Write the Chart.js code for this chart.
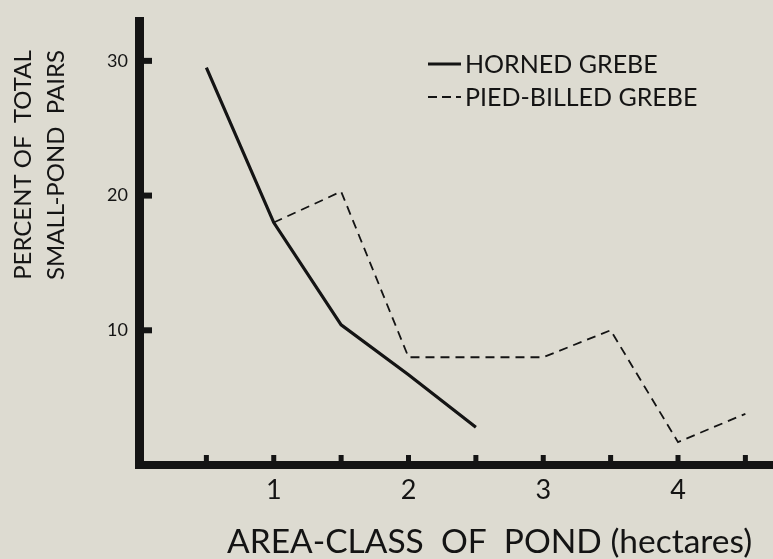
<!DOCTYPE html>
<html>
<head>
<meta charset="utf-8">
<title>Small-pond pairs by area class</title>
<script src="https://cdn.jsdelivr.net/npm/chart.js@4.4.0/dist/chart.umd.min.js"></script>
<style>
  html, body { margin: 0; padding: 0; background: #dddbd1; }
  #wrap { width: 773px; height: 559px; }
</style>
</head>
<body>
<div id="wrap"><canvas id="grebe-chart" width="773" height="559"></canvas></div>
<script>
// area-class of pond (hectares) and percent of total small-pond pairs
var hornedArea = [0.5, 1, 1.5, 2, 2.5];
var hornedPct = [29.5, 18, 10.4, 6.7, 2.8];
var piedArea = [1, 1.5, 2, 3, 3.5, 4, 4.5];
var piedPct = [18, 20.3, 8, 8, 10, 1.7, 3.8];

var xTickMarks = [0.5, 1, 1.5, 2, 2.5, 3, 3.5, 4, 4.5];
var xTickLabels = [1, 2, 3, 4];
var yTickLabels = [10, 20, 30];

var seriesNames = ['HORNED GREBE', 'PIED-BILLED GREBE'];
var xTitle = 'AREA-CLASS  OF  POND (hectares)';
var yTitle = ['PERCENT OF  TOTAL', 'SMALL-POND  PAIRS'];

var ink = '#141414';
var fontFamily = 'Lato, "DejaVu Sans", sans-serif';

function toPoints(xs, ys) {
  return xs.map(function (x, i) { return { x: x, y: ys[i] }; });
}

// short tick marks drawn inside the axes, like the printed figure
var innerTicks = {
  id: 'innerTicks',
  afterDraw: function (chart) {
    var ctx = chart.ctx;
    var xs = chart.scales.x, ys = chart.scales.y;
    var area = chart.chartArea;
    ctx.save();
    ctx.fillStyle = ink;
    xTickMarks.forEach(function (v) {
      var px = xs.getPixelForValue(v);
      ctx.fillRect(px - 2.5, area.bottom - 10, 5, 10);
    });
    yTickLabels.forEach(function (v) {
      var py = ys.getPixelForValue(v);
      ctx.fillRect(area.left, py - 3, 13, 6);
    });
    ctx.restore();
  }
};

// legend text inside the plot, top right
var insideLegend = {
  id: 'insideLegend',
  afterDraw: function (chart) {
    var ctx = chart.ctx;
    var x0 = 428, x1 = 461, rows = [64, 97];
    ctx.save();
    ctx.font = '25px ' + fontFamily;
    ctx.textBaseline = 'middle';
    ctx.fillStyle = ink;
    chart.data.datasets.forEach(function (ds, i) {
      var y = rows[i];
      ctx.beginPath();
      ctx.strokeStyle = ds.borderColor;
      ctx.lineWidth = i === 0 ? 3.2 : 1.8;
      ctx.setLineDash(i === 0 ? [] : [9, 5]);
      ctx.moveTo(x0, y);
      ctx.lineTo(x1, y);
      ctx.stroke();
      ctx.setLineDash([]);
      ctx.fillText(ds.label, x1 + 4, y + 1);
    });
    ctx.restore();
  }
};

// axis titles: two-line rotated y title, x title under the tick labels
var axisTitles = {
  id: 'axisTitles',
  afterDraw: function (chart) {
    var ctx = chart.ctx;
    ctx.save();
    ctx.fillStyle = ink;
    ctx.font = '33.5px ' + fontFamily;
    ctx.textAlign = 'left';
    ctx.textBaseline = 'alphabetic';
    ctx.fillText(xTitle, 227, 553);

    ctx.font = '24px ' + fontFamily;
    ctx.textAlign = 'center';
    ctx.textBaseline = 'middle';
    ctx.translate(0, 165);
    ctx.rotate(-Math.PI / 2);
    ctx.fillText(yTitle[0], 0, 23);
    ctx.fillText(yTitle[1], 0, 56);
    ctx.restore();
  }
};

var ctx = document.getElementById('grebe-chart').getContext('2d');
var chart = new Chart(ctx, {
  type: 'line',
  data: {
    datasets: [{
      label: seriesNames[0],
      data: toPoints(hornedArea, hornedPct),
      borderColor: ink,
      borderWidth: 3.2,
      pointRadius: 0,
      tension: 0
    }, {
      label: seriesNames[1],
      data: toPoints(piedArea, piedPct),
      borderColor: ink,
      borderWidth: 1.8,
      borderDash: [9, 6],
      pointRadius: 0,
      tension: 0
    }]
  },
  options: {
    responsive: false,
    animation: false,
    layout: { padding: { top: 9, right: 0, left: 0, bottom: 0 } },
    plugins: {
      legend: { display: false },
      tooltip: { enabled: false }
    },
    scales: {
      x: {
        type: 'linear',
        min: 0,
        max: 4.705,
        afterFit: function (scale) { scale.height = 94; },
        afterBuildTicks: function (scale) {
          scale.ticks = xTickLabels.map(function (v) { return { value: v }; });
        },
        grid: { drawOnChartArea: false, drawTicks: false },
        border: { color: ink, width: 8 },
        ticks: {
          color: ink,
          padding: 9,
          font: { family: fontFamily, size: 27 },
          maxRotation: 0
        }
      },
      y: {
        type: 'linear',
        min: 0,
        max: 32.9,
        afterFit: function (scale) { scale.width = 139; },
        afterBuildTicks: function (scale) {
          scale.ticks = yTickLabels.map(function (v) { return { value: v }; });
        },
        grid: { drawOnChartArea: false, drawTicks: false },
        border: { color: ink, width: 9 },
        ticks: {
          color: ink,
          padding: 11,
          font: { family: fontFamily, size: 18 }
        }
      }
    }
  },
  plugins: [innerTicks, insideLegend, axisTitles]
});
</script>
</body>
</html>
